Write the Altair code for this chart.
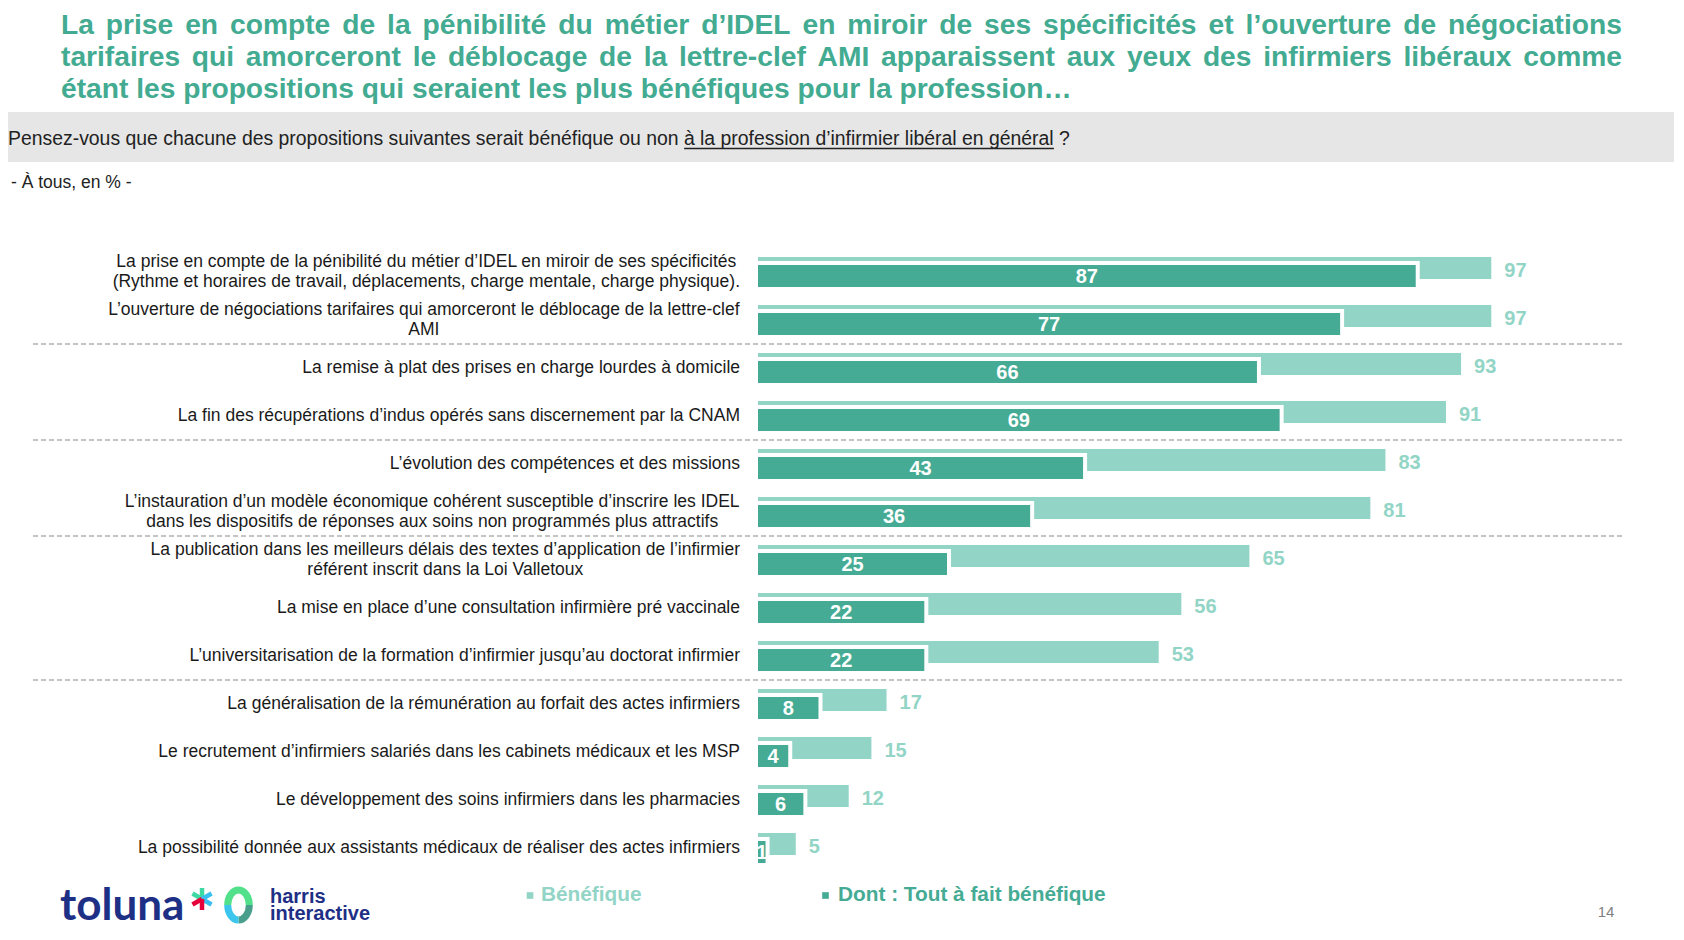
import math
import unicodedata
import altair as alt
import pandas as pd

# ---------------- data ----------------
labels = [
    "La prise en compte de la pénibilité du métier d’IDEL en miroir de ses spécificités\n(Rythme et horaires de travail, déplacements, charge mentale, charge physique).",
    "L’ouverture de négociations tarifaires qui amorceront le déblocage de la lettre-clef\nAMI",
    "La remise à plat des prises en charge lourdes à domicile",
    "La fin des récupérations d’indus opérés sans discernement par la CNAM",
    "L’évolution des compétences et des missions",
    "L’instauration d’un modèle économique cohérent susceptible d’inscrire les IDEL\ndans les dispositifs de réponses aux soins non programmés plus attractifs",
    "La publication dans les meilleurs délais des textes d’application de l’infirmier\nréférent inscrit dans la Loi Valletoux",
    "La mise en place d’une consultation infirmière pré vaccinale",
    "L’universitarisation de la formation d’infirmier jusqu’au doctorat infirmier",
    "La généralisation de la rémunération au forfait des actes infirmiers",
    "Le recrutement d’infirmiers salariés dans les cabinets médicaux et les MSP",
    "Le développement des soins infirmiers dans les pharmacies",
    "La possibilité donnée aux assistants médicaux de réaliser des actes infirmiers",
]
benefique = [97, 97, 93, 91, 83, 81, 65, 56, 53, 17, 15, 12, 5]
tout_a_fait = [87, 77, 66, 69, 43, 36, 25, 22, 22, 8, 4, 6, 1]
separator_after = [2, 4, 6, 9]  # dashed separators below these rows (1-based)

title_lines = [
    "La prise en compte de la pénibilité du métier d’IDEL en miroir de ses spécificités et l’ouverture de négociations",
    "tarifaires qui amorceront le déblocage de la lettre-clef AMI apparaissent aux yeux des infirmiers libéraux comme",
    "étant les propositions qui seraient les plus bénéfiques pour la profession…",
]
subtitle_plain = "Pensez-vous que chacune des propositions suivantes serait bénéfique ou non "
subtitle_under = "à la profession d’infirmier libéral en général"
subtitle_end = " ?"
base_note = "- À tous, en % -"
legend_labels = ["Bénéfique", "Dont : Tout à fait bénéfique"]
page_number = "14"

# ---------------- style ----------------
FONT = "Liberation Sans"
TITLE_C = "#42AB91"
LIGHT = "#92D5C6"
DARK = "#45AB94"
NAVY = "#1E2F86"
TEXT_C = "#1A1A1A"
W, H = 1666, 922

# Arial / Liberation Sans advance widths (per 1000 em)
_REG = {" ": 278, "!": 278, "%": 889, "'": 191, "(": 333, ")": 333, ",": 278, "-": 333,
        ".": 278, ":": 278, "?": 556, "’": 222, "…": 1000}
_BOLD = {" ": 278, "!": 333, "%": 889, "'": 238, "(": 333, ")": 333, ",": 278, "-": 333,
         ".": 278, ":": 333, "?": 611, "’": 278, "…": 1000}
_UP_R = dict(zip("ABCDEFGHIJKLMNOPQRSTUVWXYZ",
                 [667, 667, 722, 722, 667, 611, 778, 722, 278, 500, 667, 556, 833, 722, 778, 667, 778, 722, 667, 611, 722, 667, 944, 667, 667, 611]))
_LO_R = dict(zip("abcdefghijklmnopqrstuvwxyz",
                 [556, 556, 500, 556, 556, 278, 556, 556, 222, 222, 500, 222, 833, 556, 556, 556, 556, 333, 500, 278, 556, 500, 722, 500, 500, 500]))
_UP_B = dict(zip("ABCDEFGHIJKLMNOPQRSTUVWXYZ",
                 [722, 722, 722, 722, 667, 611, 778, 722, 278, 556, 722, 611, 833, 722, 778, 667, 778, 722, 667, 611, 722, 667, 944, 667, 667, 611]))
_LO_B = dict(zip("abcdefghijklmnopqrstuvwxyz",
                 [556, 611, 556, 611, 556, 333, 611, 611, 278, 278, 556, 278, 889, 611, 611, 611, 611, 389, 556, 333, 611, 556, 778, 556, 556, 500]))
_REG.update(_UP_R); _REG.update(_LO_R)
_BOLD.update(_UP_B); _BOLD.update(_LO_B)


def tw(s, size, bold=False):
    t = _BOLD if bold else _REG
    total = 0
    for c in s:
        if c in t:
            total += t[c]
        else:
            b = unicodedata.normalize("NFD", c)[0]
            total += t.get(b, 556)
    return total * size / 1000.0


# ---------------- main bars ----------------
n = len(labels)
df = pd.DataFrame({
    "idx": list(range(n)),
    "label": labels,
    "ben": benefique,
    "tout": tout_a_fait,
})
df["zero"] = 0

LABEL_SIZE = 17.5
LABEL_LH = 20.6
LABEL_RIGHT = 732
lab_x = []
multi = []
for lab in labels:
    lines = lab.split("\n")
    multi.append(len(lines) > 1)
    lab_x.append(LABEL_RIGHT - max(tw(l, LABEL_SIZE) for l in lines) / 2)
df["lx"] = lab_x
df["multi"] = multi

xs = alt.Scale(domain=[0, 100], range=[750, 1506])
ys = alt.Scale(domain=list(range(n)), range=[240, 864], paddingInner=0, paddingOuter=0)
Y = alt.Y("idx:O", scale=ys, axis=None)

base = alt.Chart(df)

light_bars = base.mark_bar(color=LIGHT, size=22, yOffset=-4).encode(
    x=alt.X("ben:Q", scale=xs, axis=None), y=Y)
white_bars = base.mark_bar(color="white", size=26, yOffset=2, x2Offset=4).encode(
    x=alt.X("zero:Q", scale=xs, axis=None), x2="tout:Q", y=Y)
dark_bars = base.mark_bar(color=DARK, size=22, yOffset=4).encode(
    x=alt.X("zero:Q", scale=xs, axis=None), x2="tout:Q", y=Y)

dark_text = base.transform_calculate(half="datum.tout / 2").mark_text(
    font=FONT, fontSize=20, fontWeight="bold", color="white", align="center",
    baseline="middle", yOffset=5).encode(
    x=alt.X("half:Q", scale=xs, axis=None), y=Y, text="tout:Q")
light_text = base.mark_text(
    font=FONT, fontSize=20, fontWeight="bold", color=LIGHT, align="left",
    baseline="middle", dx=13, yOffset=-1).encode(
    x=alt.X("ben:Q", scale=xs, axis=None), y=Y, text="ben:Q")

labels_single = base.transform_filter("!datum.multi").mark_text(
    font=FONT, fontSize=LABEL_SIZE, color=TEXT_C, align="right", baseline="middle").encode(
    x=alt.value(LABEL_RIGHT), y=Y, text="label:N")
labels_multi = base.transform_filter("datum.multi").mark_text(
    font=FONT, fontSize=LABEL_SIZE, color=TEXT_C, align="center", baseline="middle",
    lineBreak="\n", lineHeight=LABEL_LH, yOffset=-LABEL_LH / 2).encode(
    x=alt.X("lx:Q", scale=None), y=Y, text="label:N")

sep_idx = [i - 1 for i in separator_after]
separators = base.transform_filter(
    alt.FieldOneOfPredicate(field="idx", oneOf=sep_idx)).mark_rule(
    color="#8C8C8C", strokeWidth=1.2, strokeDash=[5, 3], yOffset=24).encode(
    y=Y, x=alt.value(25), x2=alt.value(1614))

# ---------------- title (justified) ----------------
TS = 28.2
t_left, t_right = 53, 1614
t_base = [25.7, 58.0, 90.3]
trows = []
for li, line in enumerate(title_lines):
    words = line.split(" ")
    ws = [tw(w, TS, True) for w in words]
    if li < len(title_lines) - 1:
        gap = (t_right - t_left - sum(ws)) / (len(words) - 1)
    else:
        gap = tw(" ", TS, True)
    x = t_left
    for w, wd in zip(words, ws):
        trows.append({"t": w, "x": x, "y": t_base[li]})
        x += wd + gap
title = alt.Chart(pd.DataFrame(trows)).mark_text(
    font=FONT, fontSize=TS, fontWeight="bold", color=TITLE_C, align="left",
    baseline="alphabetic").encode(
    x=alt.X("x:Q", scale=None), y=alt.Y("y:Q", scale=None), text="t:N")

# ---------------- subtitle band ----------------
one = pd.DataFrame({"k": [0]})
band = alt.Chart(one).mark_rect(color="#E6E6E6").encode(
    x=alt.value(0), x2=alt.value(W), y=alt.value(104), y2=alt.value(154))
SUB = 19.4
sub_text = alt.Chart(pd.DataFrame({"t": [subtitle_plain + subtitle_under + subtitle_end]})).mark_text(
    font=FONT, fontSize=SUB, color="#222222", align="left", baseline="alphabetic").encode(
    x=alt.value(0), y=alt.value(137.3), text="t:N")
u0 = tw(subtitle_plain, SUB)
u1 = u0 + tw(subtitle_under, SUB)
underline = alt.Chart(one).mark_rule(color="#222222", strokeWidth=1.4).encode(
    x=alt.value(u0), x2=alt.value(u1), y=alt.value(140.5))
note = alt.Chart(pd.DataFrame({"t": [base_note]})).mark_text(
    font=FONT, fontSize=17.5, color="#222222", align="left", baseline="alphabetic").encode(
    x=alt.value(3), y=alt.value(180.3), text="t:N")

# ---------------- legend ----------------
leg_df = pd.DataFrame({"t": legend_labels, "c": [LIGHT, DARK],
                       "sx": [522, 817.5], "tx": [533, 830]})
leg_sq = alt.Chart(leg_df).mark_square(size=44, opacity=1).encode(
    x=alt.X("sx:Q", scale=None), y=alt.value(887.5), color=alt.Color("c:N", scale=None))
leg_tx = alt.Chart(leg_df).mark_text(
    font=FONT, fontSize=20.8, fontWeight="bold", align="left", baseline="alphabetic").encode(
    x=alt.X("tx:Q", scale=None), y=alt.value(893), text="t:N",
    color=alt.Color("c:N", scale=None))

page = alt.Chart(pd.DataFrame({"t": [page_number]})).mark_text(
    font=FONT, fontSize=15, color="#7F7F7F", align="center", baseline="middle").encode(
    x=alt.value(1598), y=alt.value(904), text="t:N")

# ---------------- logos ----------------
toluna = alt.Chart(pd.DataFrame({"t": ["toluna"]})).mark_text(
    font="Lato", fontSize=44, fontWeight="bold", color=NAVY, align="left",
    baseline="alphabetic").encode(x=alt.value(52), y=alt.value(912), text="t:N")

cx, cy, L = 194, 891, 11
arms = []
for ang, col in [(0, "#3DD9A3"), (300, "#3DD9A3"), (60, "#38BEEF"), (120, "#38BEEF"),
                 (180, "#E5003C"), (240, "#E5003C")]:
    a = math.radians(ang)
    arms.append({"x": cx, "y": cy, "x2": cx + L * math.sin(a), "y2": cy - L * math.cos(a), "c": col})
star = alt.Chart(pd.DataFrame(arms)).mark_rule(strokeWidth=4.5, strokeCap="butt").encode(
    x=alt.X("x:Q", scale=None), y=alt.Y("y:Q", scale=None),
    x2="x2:Q", y2="y2:Q", color=alt.Color("c:N", scale=None))

ring_paths = [
    ("M -0.72 0 C -0.72 -0.552 -0.398 -1 0 -1 C 0.398 -1 0.72 -0.552 0.72 0", "#52E08A"),
    ("M 0.72 0 C 0.72 0.552 0.398 1 0 1", "#4A9F8C"),
    ("M 0 1 C -0.398 1 -0.72 0.552 -0.72 0", "#3CC6EE"),
]
rings = [alt.Chart(one).mark_point(shape=p, size=900, filled=False, stroke=c,
                                   strokeWidth=7, opacity=1).encode(
    x=alt.value(230.5), y=alt.value(897)) for p, c in ring_paths]

harris = alt.Chart(pd.DataFrame({"t": ["harris\ninteractive"]})).mark_text(
    font=FONT, fontSize=20, fontWeight="bold", color=NAVY, align="left",
    baseline="alphabetic", lineBreak="\n", lineHeight=17.5).encode(
    x=alt.value(262), y=alt.value(894.5), text="t:N")

chart = alt.layer(
    band, title, sub_text, underline, note,
    separators, light_bars, white_bars, dark_bars, dark_text, light_text,
    labels_single, labels_multi,
    leg_sq, leg_tx, page, toluna, star, *rings, harris,
).resolve_scale(x="independent", y="independent", color="independent").properties(
    width=W, height=H, autosize=alt.AutoSizeParams(type="none"), padding=0,
    background="white",
).configure_view(strokeWidth=0)

chart.save("out.html", embed_options={"renderer": "svg", "actions": False})
